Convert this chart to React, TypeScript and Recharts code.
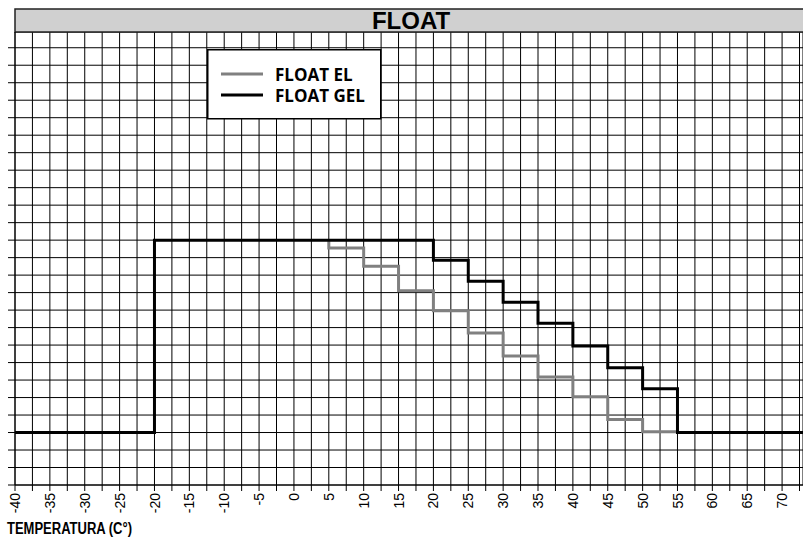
import { LineChart, Line, XAxis, YAxis, CartesianGrid, Legend, Customized } from 'recharts';

const gelTemp = [-40, -20, 20, 25, 30, 35, 40, 45, 50, 55, 73];
const gelLevel = [3, 14, 12.85, 11.65, 10.45, 9.25, 7.95, 6.7, 5.5, 3, 3];

const elTemp = [5, 5, 10, 15, 20, 25, 30, 35, 40, 45, 50, 55];
const elLevel = [14, 13.55, 12.5, 11.1, 9.96, 8.69, 7.37, 6.17, 5.05, 3.75, 3.05, 3.05];

const xTicks = [
  -40, -37.5, -35, -32.5, -30, -27.5, -25, -22.5, -20, -17.5, -15, -12.5, -10, -7.5, -5, -2.5,
  0, 2.5, 5, 7.5, 10, 12.5, 15, 17.5, 20, 22.5, 25, 27.5, 30, 32.5, 35, 37.5, 40, 42.5, 45,
  47.5, 50, 52.5, 55, 57.5, 60, 62.5, 65, 67.5, 70, 72.5,
];
const yTicks = [0, 1, 2, 3, 4, 5, 6, 7, 8, 9, 10, 11, 12, 13, 14, 15, 16, 17, 18, 19, 20, 21, 22, 23, 24, 25];

const elData = elTemp.map((t, i) => ({ t, v: elLevel[i] }));
const gelData = gelTemp.map((t, i) => ({ t, v: gelLevel[i] }));

const labelFont = '"Liberation Sans", Arial, sans-serif';

function TempTick(props: any) {
  const { x, y, payload } = props;
  if (payload.value % 5 !== 0) return <g />;
  return (
    <text
      x={x}
      y={y}
      transform={`rotate(-90, ${x}, ${y})`}
      textAnchor="end"
      dy="0.36em"
      fontSize={14}
      fontFamily={labelFont}
      fill="#000"
    >
      {payload.value}
    </text>
  );
}

function LegendBox({ payload }: any) {
  const rows = payload || [];
  return (
    <svg width={175} height={71} style={{ display: 'block' }}>
      <rect x={0.75} y={0.75} width={173} height={69} fill="#fff" stroke="#000" strokeWidth={1.5} />
      {rows.map((p: any, i: number) => (
        <g key={p.value}>
          <line x1={14} x2={56} y1={25 + i * 21} y2={25 + i * 21} stroke={p.color} strokeWidth={3} />
          <text x={68} y={32 + i * 21} fontSize={17} fontWeight="bold" fontFamily='"Open Sans", sans-serif' fill="#000">
            {p.value}
          </text>
        </g>
      ))}
    </svg>
  );
}

function TitleBar() {
  return (
    <g>
      <rect x={15} y={9} width={790} height={23} fill="#d0d0d0" stroke="#222" strokeWidth={1.5} />
      <text x={411} y={29} textAnchor="middle" fontSize={24} fontWeight="bold" fontFamily={labelFont} fill="#000">
        FLOAT
      </text>
      <text
        x={7}
        y={534}
        fontSize={16}
        fontWeight="bold"
        fontFamily={labelFont}
        textLength={125}
        lengthAdjust="spacingAndGlyphs"
        fill="#000"
      >
        TEMPERATURA (C°)
      </text>
    </g>
  );
}

export default function App() {
  return (
    <div style={{ position: 'absolute', left: 0, top: 0, background: '#fff' }}>
      <LineChart width={803} height={537} margin={{ top: 32, right: 0, bottom: 0, left: 0 }}>
        <CartesianGrid stroke="#000" strokeWidth={1} />
        <XAxis
          type="number"
          dataKey="t"
          domain={[-40, 73]}
          ticks={xTicks}
          interval={0}
          height={52}
          tickSize={6}
          tickMargin={2}
          stroke="#000"
          tick={<TempTick />}
          allowDataOverflow
        />
        <YAxis
          type="number"
          domain={[0, 25.9]}
          ticks={yTicks}
          interval={0}
          width={15}
          tickSize={7}
          stroke="#000"
          tick={() => <g />}
          allowDataOverflow
        />
        <Legend
          layout="vertical"
          align="center"
          verticalAlign="middle"
          content={<LegendBox />}
          wrapperStyle={{ position: 'absolute', left: 207, top: 49, width: 175, height: 71 }}
        />
        <Customized component={<TitleBar />} />
        <Line
          data={elData}
          dataKey="v"
          name="FLOAT EL"
          type="stepAfter"
          stroke="#808080"
          strokeWidth={3}
          dot={false}
          isAnimationActive={false}
        />
        <Line
          data={gelData}
          dataKey="v"
          name="FLOAT GEL"
          type="stepAfter"
          stroke="#000"
          strokeWidth={3}
          dot={false}
          isAnimationActive={false}
        />
      </LineChart>
    </div>
  );
}
